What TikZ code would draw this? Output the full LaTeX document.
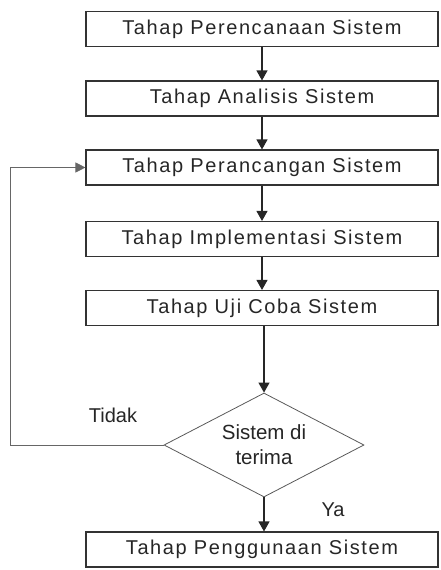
\documentclass[tikz,border=0pt]{standalone}
\usepackage{fontspec}
\setmainfont{Liberation Sans}
\newfontfamily\boxfont[LetterSpace=8]{Liberation Sans}
\usetikzlibrary{shapes.geometric,arrows.meta}
\begin{document}
\begin{tikzpicture}[x=1pt,y=-1pt,
  stagebox/.style={draw=black!80, line width=1.1pt, minimum width=352pt, minimum height=35pt, inner sep=0pt, font=\boxfont\fontsize{20}{22}\selectfont, text=black!85},
  decision/.style={draw=black!65, line width=0.8pt, diamond, aspect=1.92, minimum width=200pt, minimum height=104pt, inner sep=0pt, align=center, font=\fontsize{20.5}{25}\selectfont, text=black!85},
  flow/.style={draw=black!85, line width=1.1pt, -{Triangle[length=10pt,width=11pt]}},
  loopline/.style={draw=black!60, line width=0.7pt, -{Triangle[length=10pt,width=10pt]}},
  lbl/.style={font=\fontsize{20}{24}\selectfont, text=black!85}]
\useasboundingbox (0,0) rectangle (441,570);
\node[stagebox] (s1) at (262,29) {Tahap Perencanaan Sistem};
\node[stagebox] (s2) at (262,98.5) {Tahap Analisis Sistem};
\node[stagebox] (s3) at (262,167.5) {Tahap Perancangan Sistem};
\node[stagebox] (s4) at (262,239) {Tahap Implementasi Sistem};
\node[stagebox] (s5) at (262,308) {Tahap Uji Coba Sistem};
\node[decision] (d) at (264,445) {Sistem di\\terima};
\node[stagebox] (s6) at (262,549.5) {Tahap Penggunaan Sistem};
\coordinate (c1) at (10,445);
\coordinate (c2) at (10,167.5);
\draw[flow] (s1) -- (s2);
\draw[flow] (s2) -- (s3);
\draw[flow] (s3) -- (s4);
\draw[flow] (s4) -- (s5);
\draw[flow] (s5.south -| d.north) -- (d.north);
\draw[flow] (d.south) -- (d.south |- s6.north);
\draw[loopline] (d.west) -- (c1) -- (c2) -- (s3.west);
\node[lbl] (tidak) at (113,415) {Tidak};
\node[lbl] (ya) at (333,510) {Ya};
\end{tikzpicture}
\end{document}
